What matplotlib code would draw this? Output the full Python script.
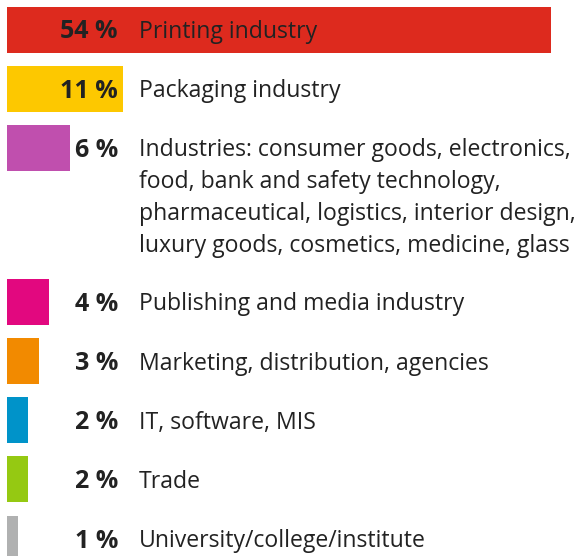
import matplotlib.pyplot as plt
from matplotlib.transforms import blended_transform_factory

# Data
percents = [54, 11, 6, 4, 3, 2, 2, 1]
labels = [
    "Printing industry",
    "Packaging industry",
    "Industries: consumer goods, electronics,\nfood, bank and safety technology,\n"
    "pharmaceutical, logistics, interior design,\nluxury goods, cosmetics, medicine, glass",
    "Publishing and media industry",
    "Marketing, distribution, agencies",
    "IT, software, MIS",
    "Trade",
    "University/college/institute",
]
colors = ["#DD2A1E", "#FDC800", "#C04FAE", "#E2087F",
          "#F28A00", "#0093C9", "#95C912", "#B0B1B1"]

plt.rcParams["font.family"] = ["Open Sans", "DejaVu Sans"]
text_color = "#222222"

W, H = 580, 556
fig = plt.figure(figsize=(W / 100, H / 100), dpi=100)
# bars are cut off at the right edge of the axes (largest bar truncated)
ax = fig.add_axes([7 / W, 0, (551 - 7) / W, 1])

scale = 10.55  # pixels per percent
ax.set_xlim(0, (551 - 7) / scale)
ax.set_ylim(H, 0)
ax.axis("off")

bar_h = 46
step = 59.2
extra = 31.6
line_gap = 32

# row centres in pixels, extra room for multi-line labels
centres = []
y = 29.5
for lab in labels:
    centres.append(y)
    y += step + lab.count("\n") * extra

ax.barh(centres, percents, height=bar_h, color=colors, left=0)

tr = blended_transform_factory(fig.transFigure, ax.transData)
for c, p, lab in zip(centres, percents, labels):
    ax.text(118 / W, c + 2.5, f"{p} %", transform=tr, ha="right", va="center",
            fontsize=18, fontweight="bold", color=text_color)
    for i, line in enumerate(lab.split("\n")):
        ax.text(139 / W, c + 2.5 + i * line_gap, line, transform=tr, ha="left",
                va="center", fontsize=16.6, color=text_color)

fig.savefig("out.png", dpi=100)
